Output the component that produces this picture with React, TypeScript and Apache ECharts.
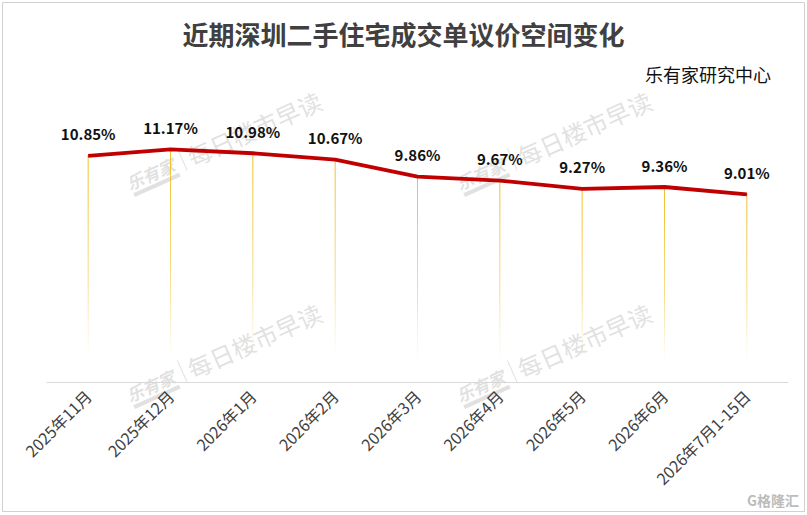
import React, { useEffect, useRef } from "react";
import * as echarts from "echarts";

const categories = [
  "2025年11月",
  "2025年12月",
  "2026年1月",
  "2026年2月",
  "2026年3月",
  "2026年4月",
  "2026年5月",
  "2026年6月",
  "2026年7月1-15日",
];
const values = [10.85, 11.17, 10.98, 10.67, 9.86, 9.67, 9.27, 9.36, 9.01];
const titleText = "近期深圳二手住宅成交单议价空间变化";
const sourceText = "乐有家研究中心";

const wmColor = "rgba(205,205,205,0.6)";
function watermark(x: number, y: number) {
  return {
    type: "group",
    x,
    y,
    rotation: 0.42,
    silent: true,
    z: 0,
    children: [
      {
        type: "text",
        x: 0,
        y: 0,
        style: {
          text: "乐有家",
          fill: wmColor,
          font: 'bold italic 17px "Noto Sans CJK SC"',
          textVerticalAlign: "middle",
        },
      },
      {
        type: "rect",
        shape: { x: 2, y: 11, width: 50, height: 4 },
        style: { fill: wmColor },
      },
      {
        type: "rect",
        shape: { x: 60, y: -12, width: 1, height: 24 },
        style: { fill: wmColor },
      },
      {
        type: "text",
        x: 67,
        y: 1,
        style: {
          text: "每日楼市早读",
          fill: wmColor,
          font: '24px "Noto Sans CJK SC"',
          textVerticalAlign: "middle",
        },
      },
    ],
  };
}

export default function App() {
  const ref = useRef<HTMLDivElement>(null);
  useEffect(() => {
    document.body.style.margin = "0";
    const chart = echarts.init(ref.current!, undefined, { renderer: "svg" });
    chart.setOption({
      animation: false,
      backgroundColor: "#fff",
      title: [
        {
          text: titleText,
          left: "center",
          top: 15,
          textStyle: {
            fontFamily: "Noto Sans CJK SC",
            fontWeight: "bold",
            fontSize: 26,
            color: "#404040",
          },
        },
        {
          text: sourceText,
          right: 31,
          top: 60,
          textStyle: {
            fontFamily: "Noto Sans CJK SC",
            fontWeight: "normal",
            fontSize: 18,
            color: "#111",
          },
        },
      ],
      grid: { left: 47, right: 19, top: 132, bottom: 133 },
      xAxis: {
        type: "category",
        data: categories,
        boundaryGap: true,
        axisLine: { lineStyle: { color: "#d9d9d9", width: 1 } },
        axisTick: { show: false },
        axisLabel: {
          rotate: 45,
          margin: 11,
          fontSize: 16,
          color: "#404040",
          fontFamily: "Noto Sans CJK SC",
          interval: 0,
        },
      },
      yAxis: {
        type: "value",
        min: 0,
        max: 12,
        show: false,
        splitLine: { show: false },
      },
      graphic: [
        {
          type: "rect",
          shape: { x: 2.5, y: 2.5, width: 802, height: 509 },
          style: { fill: "none", stroke: "#d0d0d0", lineWidth: 1 },
          silent: true,
          z: -1,
        },
        watermark(127, 184),
        watermark(457, 184),
        watermark(127, 396),
        watermark(457, 396),
        {
          type: "text",
          right: 8,
          bottom: 8,
          style: {
            text: "G格隆汇",
            fill: "rgba(170,170,170,0.8)",
            font: 'bold 14px "Noto Sans CJK SC"',
          },
          silent: true,
        },
      ],
      series: [
        {
          type: "bar",
          data: values,
          barWidth: 1,
          silent: true,
          z: 1,
          itemStyle: {
            color: new echarts.graphic.LinearGradient(0, 0, 0, 1, [
              { offset: 0, color: "rgba(240,190,40,1)" },
              { offset: 0.55, color: "rgba(240,200,60,0.6)" },
              { offset: 0.9, color: "rgba(240,210,90,0)" },
              { offset: 1, color: "rgba(240,210,90,0)" },
            ]),
          },
        },
        {
          type: "line",
          data: values,
          symbol: "circle",
          symbolSize: 1,
          showSymbol: true,
          itemStyle: { color: "#C00000" },
          z: 3,
          lineStyle: { color: "#C00000", width: 3.8 },
          label: {
            show: true,
            position: "top",
            distance: 14,
            formatter: (p: any) => p.value.toFixed(2) + "%",
            fontFamily: "Noto Sans CJK SC",
            fontWeight: "bold",
            fontSize: 15,
            color: "#111",
          },
        },
      ],
    });
    return () => chart.dispose();
  }, []);
  return <div ref={ref} style={{ width: 807, height: 515 }} />;
}
